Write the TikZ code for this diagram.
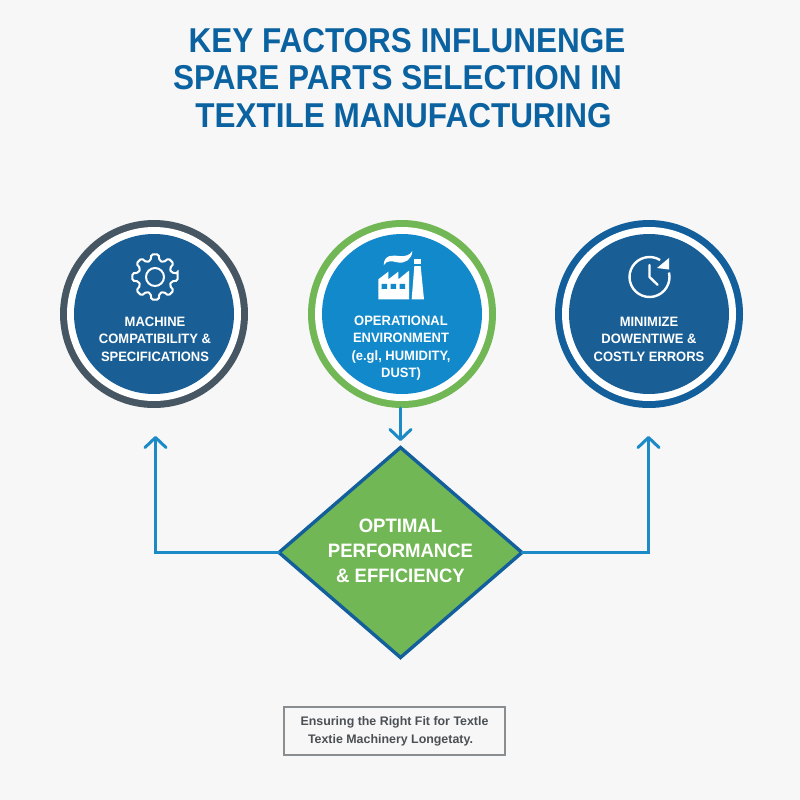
\documentclass[tikz,border=0pt]{standalone}
\usepackage{fontspec}
\setmainfont{Liberation Sans}
\newfontfamily\titlefont[FakeStretch=0.913]{Liberation Sans}
\newfontfamily\labelfont[FakeStretch=0.955]{Liberation Sans}
\usetikzlibrary{arrows.meta,shapes.geometric}
\definecolor{pagebg}{HTML}{F7F7F7}
\definecolor{titleblue}{HTML}{0B62A0}
\definecolor{deepblue}{HTML}{195F96}
\definecolor{brightblue}{HTML}{1289CB}
\definecolor{slatering}{HTML}{465663}
\definecolor{leafgreen}{HTML}{72B755}
\definecolor{linkblue}{HTML}{1C8AC6}
\definecolor{edgeblue}{HTML}{135F9C}
\definecolor{boxgrey}{HTML}{8B8E91}
\definecolor{notegrey}{HTML}{4B5055}
\tikzset{
  ringouter/.style={circle,minimum size=188pt,inner sep=0pt,outer sep=0pt,fill=#1},
  ringwhite/.style={circle,minimum size=174pt,inner sep=0pt,outer sep=0pt,fill=white},
  ringinner/.style={circle,minimum size=160pt,inner sep=0pt,outer sep=0pt,fill=#1},
  titletext/.style={font=\titlefont\fontsize{34.5}{38}\selectfont\bfseries,text=titleblue,inner sep=0pt,anchor=center},
  circletext/.style={font=\labelfont\fontsize{13.6}{17.4}\selectfont\bfseries,text=white,align=center,inner sep=0pt},
  link/.style={draw=linkblue,line width=3pt,line cap=round,-{Straight Barb[length=10pt,width=21pt,line width=3pt,round]}},
  iconline/.style={draw=white,line width=2pt},
  goal/.style={diamond,minimum width=243pt,minimum height=210pt,inner sep=0pt,outer sep=0pt,fill=leafgreen,draw=edgeblue,line width=3.4pt},
  goaltext/.style={font=\labelfont\fontsize{19.4}{25}\selectfont\bfseries,text=white,align=center,inner sep=0pt},
  notebox/.style={draw=boxgrey,line width=1.2pt,minimum width=221pt,minimum height=48pt,inner sep=0pt,outer sep=0pt,
     font=\fontsize{12.4}{18}\selectfont\bfseries,text=notegrey,align=center},
}
\begin{document}
\begin{tikzpicture}[x=1pt,y=-1pt]
\useasboundingbox (0,0) rectangle (800,800);
\fill[pagebg] (0,0) rectangle (800,800);
% title
\node[titletext] (t1) at (407,41) {KEY FACTORS INFLUNENGE};
\node[titletext] (t2) at (397.5,78) {SPARE PARTS SELECTION IN};
\node[titletext] (t3) at (403.5,116) {TEXTILE MANUFACTURING};
% circles
\node[ringouter=slatering] (c1) at (154,314) {};
\node[ringwhite] at (c1) {};
\node[ringinner=deepblue] at (c1) {};
\node[ringouter=leafgreen] (c2) at (402,314) {};
\node[ringwhite] at (c2) {};
\node[ringinner=brightblue] at (c2) {};
\node[ringouter=edgeblue] (c3) at (649,314) {};
\node[ringwhite] at (c3) {};
\node[ringinner=deepblue] at (c3) {};
% labels
\node[circletext] (l1) at (155,339) {MACHINE\\COMPATIBILITY \&\\SPECIFICATIONS};
\node[circletext] (l2) at (401,348) {OPERATIONAL\\ENVIRONMENT\\(e.gl, HUMIDITY,\\DUST)};
\node[circletext] (l3) at (649,339) {MINIMIZE\\DOWENTIWE \&\\COSTLY ERRORS};
% gear
\begin{scope}[shift={(155,277)}]
\draw[iconline,rounded corners=1.6pt] (-9:23)
  \foreach \a in {0,45,...,315} { -- (\a-9:23) -- (\a+9:23) -- (\a+15:17) -- (\a+30:17) } -- cycle;
\draw[iconline] (0,0) circle (9);
\end{scope}
% clock
\begin{scope}[shift={(649.5,277)}]
\draw[iconline,line width=2.4pt] (-13:20) arc[start angle=-13,end angle=302,radius=20];
\fill[white] (19.5,-19) -- (19.5,-7.5) -- (7.5,-9) -- cycle;
\draw[iconline,line width=2.4pt,line cap=round,line join=round] (0,-12) -- (0,0) -- (8,7.7);
\end{scope}
% factory
\begin{scope}[shift={(360,240)},x=0.3333pt,y=-0.3333pt]
\fill[white] (55,118) -- (85,95) -- (85,118) -- (115,95) -- (115,118) -- (147,92) -- (147,178) -- (55,178) -- cycle;
\fill[brightblue] (65,132) rectangle (81,147) (92,132) rectangle (108,147) (119,132) rectangle (135,147);
\fill[white] (155,178) -- (163,78) -- (182,78) -- (192,178) -- cycle;
\fill[white] (162,56) rectangle (183,72);
\fill[white] (71,76) .. controls (72,42) and (100,46) .. (118,48) .. controls (135,50) and (150,46) .. (157,33)
  .. controls (156,58) and (135,72) .. (112,67) .. controls (95,63) and (80,60) .. (71,76) -- cycle;
\end{scope}
% diamond
\node[goal] (g) at (400.5,552.5) {};
\node[goaltext] (gl) at (400.5,551) {OPTIMAL\\PERFORMANCE\\\& EFFICIENCY};
% connectors
\coordinate (a1) at (155.5,436);
\coordinate (a3) at (648.5,436);
\coordinate (a2) at (c2.south -| g.north);
\coordinate (a2e) at (400.5,441);
\draw[link] (g.west) -- (g.west -| a1) -- (a1);
\draw[link] (g.east) -- (g.east -| a3) -- (a3);
\draw[link] (a2) -- (a2e);
% note
\node[notebox] (n) at (394.5,731) {Ensuring the Right Fit for Textle\\\hspace*{-8pt}Textie Machinery Longetaty.};
\end{tikzpicture}
\end{document}
